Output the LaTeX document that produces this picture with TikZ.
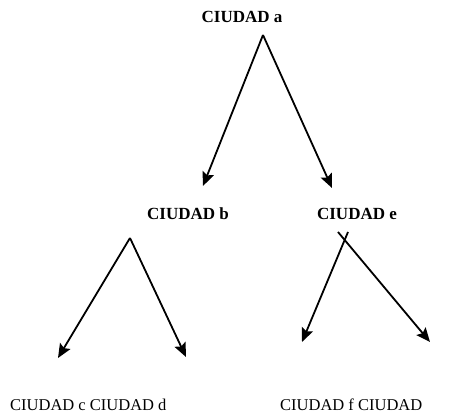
\documentclass[tikz,border=0pt]{standalone}
\usepackage{fontspec}
\setmainfont{Liberation Serif}
\usetikzlibrary{arrows.meta}
\tikzset{
  ciudad/.style = { font=\fontsize{17}{20}\selectfont\bfseries, inner sep=0pt },
  hoja/.style   = { font=\fontsize{16.5}{19}\selectfont, inner sep=0pt, anchor=west },
  flecha/.style = { line width=1.8pt, -{Stealth[length=14pt,width=12pt,inset=2.5pt]} }
}
\begin{document}
\begin{tikzpicture}[x=1pt,y=-1pt]
\useasboundingbox (0,0) rectangle (451,419);
\node[ciudad] (a) at (242,17) {CIUDAD a};
\node[ciudad] (b) at (188,214) {CIUDAD b};
\node[ciudad] (e) at (357,214) {CIUDAD e};
\node[hoja] (cd) at (10,405) {CIUDAD c CIUDAD d};
\node[hoja] (fg) at (280,405) {CIUDAD f CIUDAD};
% vertices y puntas
\coordinate (va) at (263,35);
\coordinate (vb) at (130,238);
\coordinate (ve1) at (348,232);
\coordinate (ve2) at (338,232);
\coordinate (pb) at (203,186);
\coordinate (pe) at (332,188);
\coordinate (pc) at (58,358);
\coordinate (pd) at (186,357);
\coordinate (pf) at (302,342);
\coordinate (pg) at (430,342);
\draw[flecha] (va) -- (pb);
\draw[flecha] (va) -- (pe);
\draw[flecha] (vb) -- (pc);
\draw[flecha] (vb) -- (pd);
\draw[flecha] (ve1) -- (pf);
\draw[flecha] (ve2) -- (pg);
\end{tikzpicture}
\end{document}
